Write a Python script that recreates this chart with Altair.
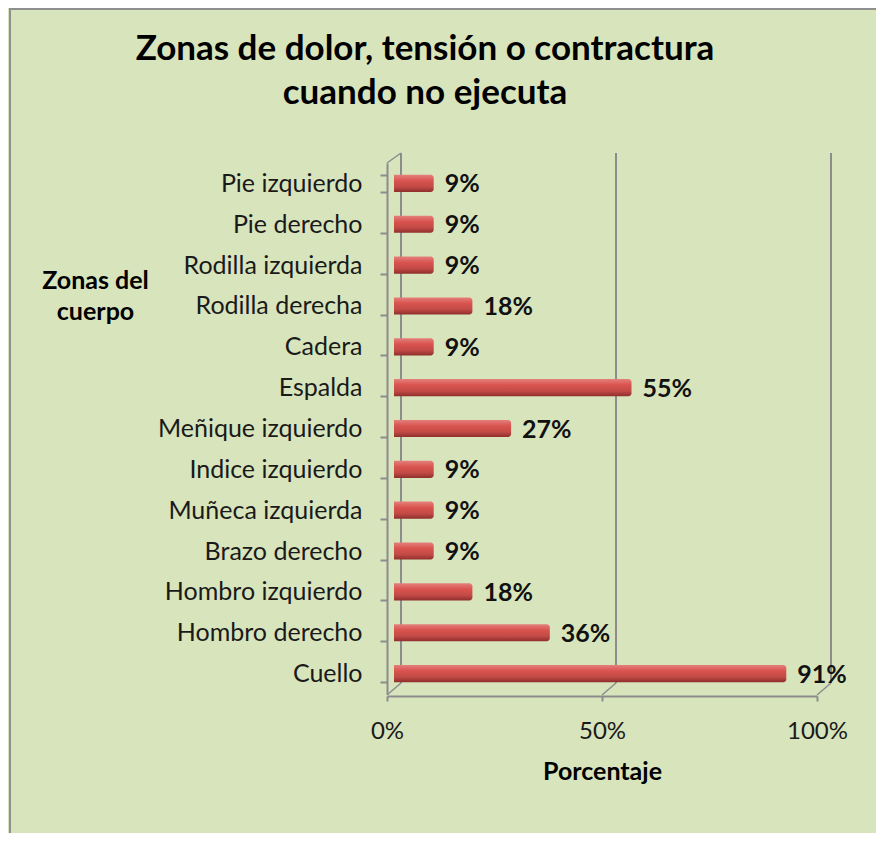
import altair as alt
import pandas as pd

zonas = ["Pie izquierdo", "Pie derecho", "Rodilla izquierda", "Rodilla derecha",
         "Cadera", "Espalda ", "Meñique izquierdo", "Indice izquierdo",
         "Muñeca izquierda", "Brazo derecho", "Hombro izquierdo",
         "Hombro derecho", "Cuello"]
porcentajes = [9, 9, 9, 18, 9, 55, 27, 9, 9, 9, 18, 36, 91]
etiquetas = [f"{v}%" for v in porcentajes]
ticks_x = [0, 50, 100]

FONT = "Lato"
BG = "#d8e4bc"
GRID = "#8c8c8c"
W, H = 430, 531

df = pd.DataFrame({"zona": zonas, "pct": porcentajes, "lab": etiquetas, "cero": 0})
grid = pd.DataFrame({"t": ticks_x})

xs = alt.Scale(domain=[0, 100], nice=False)
ys = alt.Scale(domain=zonas, paddingInner=0.58, paddingOuter=0.29)

back = alt.Chart(grid).mark_rule(color=GRID, strokeWidth=2, xOffset=14).encode(
    x=alt.X("t:Q", scale=xs),
    y=alt.value(-10), y2=alt.value(H - 11),
)
floor = alt.Chart(grid).mark_rule(color=GRID, strokeWidth=1.5, x2Offset=14).encode(
    x=alt.X("t:Q", scale=xs), x2="t:Q",
    y=alt.value(H + 1), y2=alt.value(H - 11),
)
topdiag = alt.Chart(grid).transform_filter("datum.t == 0").mark_rule(
    color=GRID, strokeWidth=1.5, x2Offset=14).encode(
    x=alt.X("t:Q", scale=xs), x2="t:Q",
    y=alt.value(0), y2=alt.value(-10),
)
frame_left = alt.Chart(grid).transform_filter("datum.t == 0").mark_rule(
    color="#8f8f8f", strokeWidth=2).encode(
    x=alt.value(-377), y=alt.value(-154), y2=alt.value(H + 139),
)
frame_top = alt.Chart(grid).transform_filter("datum.t == 0").mark_rule(
    color="#8f8f8f", strokeWidth=2).encode(
    x=alt.value(-378), x2=alt.value(W + 61), y=alt.value(-154),
)

grad = alt.Gradient(
    gradient="linear", x1=0, y1=0, x2=0, y2=1,
    stops=[alt.GradientStop(color="#e4807b", offset=0),
           alt.GradientStop(color="#d9534f", offset=0.35),
           alt.GradientStop(color="#c24a46", offset=0.7),
           alt.GradientStop(color="#8e2f2c", offset=1)],
)

bars = alt.Chart(df).mark_bar(color=grad, xOffset=8, x2Offset=7,
                              cornerRadiusTopRight=3, cornerRadiusBottomRight=3).encode(
    x=alt.X("pct:Q", scale=xs, stack=None,
            axis=alt.Axis(values=ticks_x, format=".0f", labelExpr="datum.value + '%'",
                          title="Porcentaje", grid=False, tickSize=5, labelPadding=18,
                          labelFlush=False, titlePadding=16, offset=2)),
    x2="cero:Q",
    y=alt.Y("zona:N", scale=ys, sort=zonas,
            axis=alt.Axis(title=["Zonas del", "cuerpo"], tickSize=7, tickBand="extent",
                          labelPadding=18, labelLimit=0, titleAngle=0, titleAlign="center",
                          titleBaseline="top", titleX=-292, titleY=105,
                          titleLineHeight=31)),
)

text = alt.Chart(df).mark_text(align="left", baseline="middle", dx=19, dy=1, font=FONT,
                               fontSize=25, fontWeight="bold", color="#111111").encode(
    x=alt.X("pct:Q", scale=xs), y=alt.Y("zona:N", scale=ys, sort=zonas), text="lab:N",
)

chart = alt.layer(frame_left, frame_top, back, floor, topdiag, bars, text).properties(
    width=W, height=H,
    autosize=alt.AutoSizeParams(type="none"),
    padding={"left": 379, "top": 155, "right": 59, "bottom": 139},
    background=BG,
    title=alt.TitleParams(
        text=["Zonas de dolor, tensión o contractura", "cuando no ejecuta"],
        font=FONT, fontSize=35, fontWeight="bold", color="#000000",
        anchor="middle", dx=-177, offset=-103, lineHeight=44,
    ),
).configure_view(stroke=None).configure_axis(
    labelFont=FONT, labelFontSize=24, labelColor="#1a1a1a",
    titleFont=FONT, titleFontSize=25, titleFontWeight="bold", titleColor="#000000",
    domainColor=GRID, domainWidth=2, tickColor=GRID, tickWidth=2,
).configure_axisY(labelFontSize=25)

chart.save("out.html", embed_options={"renderer": "svg", "actions": False})
